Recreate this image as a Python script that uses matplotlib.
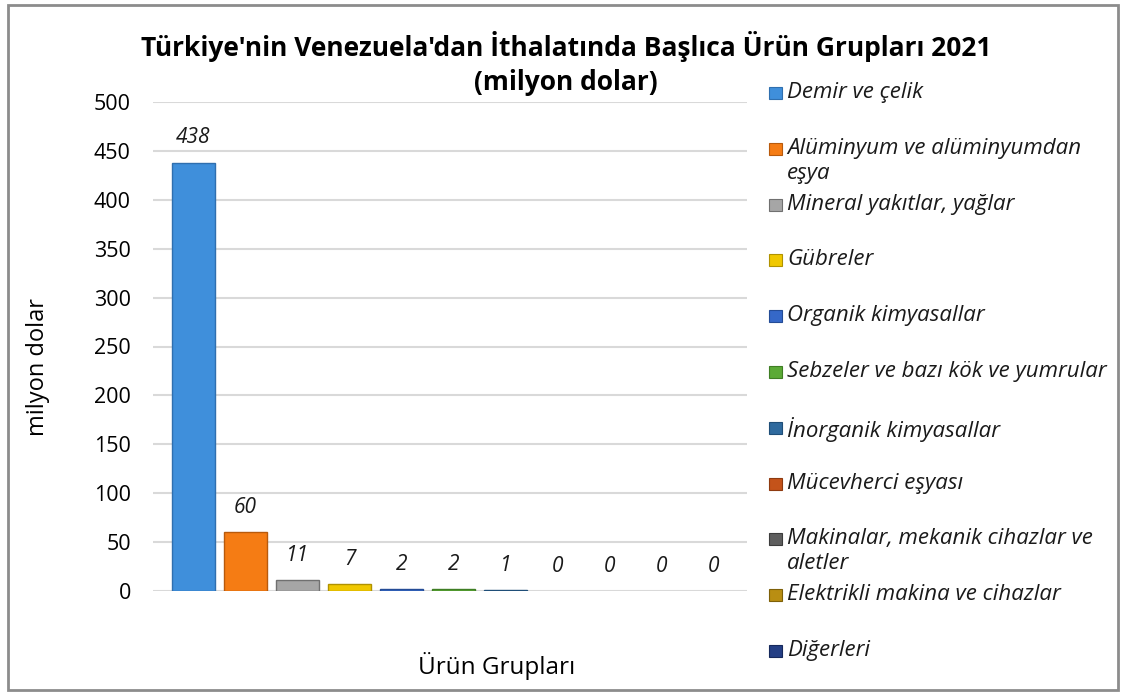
import matplotlib.pyplot as plt
from matplotlib.patches import Rectangle

# Veriler
urun_gruplari = [
    "Demir ve çelik",
    "Alüminyum ve alüminyumdan\neşya",
    "Mineral yakıtlar, yağlar",
    "Gübreler",
    "Organik kimyasallar",
    "Sebzeler ve bazı kök ve yumrular",
    "İnorganik kimyasallar",
    "Mücevherci eşyası",
    "Makinalar, mekanik cihazlar ve\naletler",
    "Elektrikli makina ve cihazlar",
    "Diğerleri",
]
degerler = [438, 60, 11, 7, 2, 2, 1, 0, 0, 0, 0]
renkler = ["#3F8FDB", "#F57C14", "#A6A6A6", "#F0C800", "#3568C8", "#5BAA36",
           "#2F6A9E", "#C4531A", "#5E5E5E", "#B98E12", "#243F85"]
kenar = ["#2F6FAF", "#B85A0C", "#707070", "#B09200", "#244C96", "#3F7E24",
         "#1F4E78", "#8E3A10", "#3C3C3C", "#7E6008", "#16295C"]
y_ticks = [0, 50, 100, 150, 200, 250, 300, 350, 400, 450, 500]

W, H = 1122, 692
DPI = 100
plt.rcParams['font.family'] = ['Open Sans', 'DejaVu Sans']

fig = plt.figure(figsize=(W / DPI, H / DPI), dpi=DPI)


def fx(px):
    return px / W


def fy(py):
    return 1 - py / H


ax = fig.add_axes([fx(153), fy(591), fx(747) - fx(153), fy(102) - fy(591)])

x = list(range(len(degerler)))
genislik = [1 if v > 0 else 0 for v in degerler]
ax.bar(x, degerler, width=0.83, color=renkler, edgecolor=kenar, linewidth=genislik, zorder=3)

for xi, v in zip(x, degerler):
    ax.annotate(str(v), (xi, v), xytext=(0, 18), textcoords='offset points',
                ha='center', va='center', fontsize=15, style='italic', color='#1a1a1a')

ax.set_xlim(-0.78, 10.64)
ax.set_ylim(0, 500)
ax.set_yticks(y_ticks)
ax.set_xticks([])
ax.tick_params(axis='y', length=0, labelsize=15.5, pad=16)
ax.grid(axis='y', color='#D9D9D9', linewidth=1.5, zorder=0)
for s in ax.spines.values():
    s.set_visible(False)

ax.set_xlabel("Ürün Grupları", fontsize=17.5)
ax.xaxis.set_label_coords(0.579, -0.125)

fig.text(fx(38), fy(367), "milyon dolar", rotation=90, ha='center', va='center', fontsize=17)

fig.text(fx(566), fy(47), "Türkiye'nin Venezuela'dan İthalatında Başlıca Ürün Grupları 2021",
         ha='center', va='center', fontsize=19, fontweight='bold')
fig.text(fx(566), fy(83), "(milyon dolar)", ha='center', va='center', fontsize=19, fontweight='bold')

# Lejant (elle)
for i, (ad, r) in enumerate(zip(urun_gruplari, renkler)):
    yc = 93 + i * 55.8
    fig.patches.append(Rectangle((fx(769), fy(yc + 6)), fx(13), fy(0) - fy(12),
                                 transform=fig.transFigure, facecolor=r,
                                 edgecolor=kenar[i], linewidth=0.8))
    fig.text(fx(787), fy(yc - 11), ad, ha='left', va='top', fontsize=16, style='italic',
             color='#1a1a1a', linespacing=1.25)

# Çerçeve
fig.patches.append(Rectangle((fx(8), fy(690)), fx(1118) - fx(8), fy(5) - fy(690),
                             transform=fig.transFigure, facecolor='none',
                             edgecolor='#8C8C8C', linewidth=2))

fig.savefig("out.png", dpi=DPI)
